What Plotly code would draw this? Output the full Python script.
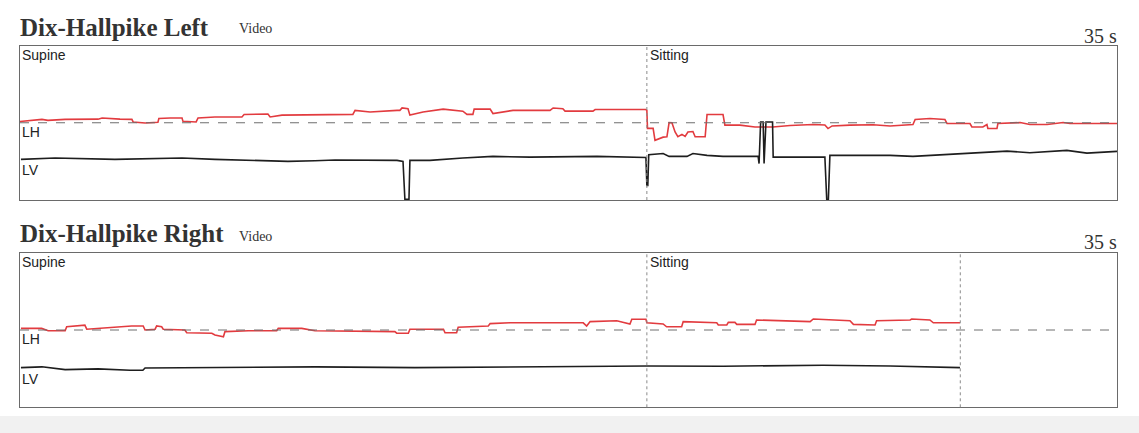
import plotly.graph_objects as go

# ---------------- data (time in s, eye position in deg) ----------------
TOTAL_S = 35
PHASES_LEFT = ["Supine", "Sitting"]
PHASE_START_LEFT = [0, 20]
PHASES_RIGHT = ["Supine", "Sitting"]
PHASE_START_RIGHT = [0, 20]
RIGHT_END = 30

left_lh_t = [0.00, 0.70, 0.89, 1.44, 2.49, 2.62, 3.19, 3.57, 3.61, 3.99,
             4.40, 4.43, 4.79, 5.17, 5.20, 5.62, 5.68, 6.22, 7.08, 7.15,
             7.91, 7.98, 8.36, 9.41, 10.05, 10.62, 10.69, 11.17, 12.03, 12.12,
             12.19, 12.38, 12.44, 12.86, 13.50, 14.13, 14.26, 14.45, 14.49, 15.00,
             15.09, 15.73, 16.91, 17.01, 17.32, 17.39, 18.28, 18.35, 19.97, 20.00,
             20.02, 20.20, 20.26, 20.52, 20.64, 20.71, 20.80, 20.90, 20.99, 21.12,
             21.22, 21.31, 21.47, 21.54, 21.86, 21.92, 22.43, 22.49, 22.97, 23.45,
             24.02, 24.57, 25.30, 25.68, 25.78, 25.91, 26.48, 27.22, 27.76, 28.49,
             28.56, 29.03, 29.51, 29.58, 30.31, 30.37, 30.72, 30.85, 30.88, 31.17,
             31.20, 31.91, 32.22, 32.77, 33.28, 33.50, 35.00]
left_lh_v = [0.3, 0.85, 0.6, 0.85, 0.9, 1.2, 0.9, 0.85, 0.2, -0.05,
             0.1, 1.05, 1.2, 1.2, 0.35, 0.2, 1.2, 1.45, 1.45, 2.05,
             2.2, 1.45, 1.9, 2.05, 2.15, 2.1, 3.1, 2.7, 3.1, 3.1,
             3.7, 3.5, 1.9, 2.7, 3.4, 2.9, 2.1, 2.1, 3.4, 3.4,
             2.3, 3.1, 3.1, 3.7, 3.5, 2.9, 2.9, 3.3, 3.3, 3.1,
             -1.4, -1.4, -4.4, -3.6, -3.5, 0.05, 0.0, -2.3, -3.5, -2.9,
             -3.4, -2.3, -2.2, -3.5, -3.5, 2.05, 2.05, -0.6, -0.6, -1.05,
             -1.05, -0.7, -0.45, -0.55, -1.45, -0.8, -0.6, -0.5, -0.8, -0.45,
             0.8, 1.05, 0.8, -0.2, -0.2, -1.05, -1.05, -0.45, -1.45, -1.45,
             -0.2, 0.05, -0.45, -0.45, 0.05, -0.2, -0.2]

left_lv_t = [0.03, 1.12, 3.03, 5.17, 6.22, 8.55, 9.41, 10.05, 12.03, 12.22,
             12.28, 12.41, 12.44, 13.08, 14.13, 15.09, 16.27, 18.41, 19.97, 20.00,
             20.03, 20.06, 20.52, 20.71, 21.28, 21.47, 21.92, 22.43, 23.55, 23.58,
             23.63, 23.71, 23.74, 23.80, 24.01, 24.03, 24.57, 25.68, 25.74, 25.79,
             25.84, 27.76, 28.49, 29.58, 30.63, 31.49, 32.22, 33.40, 34.04, 35.00]
left_lv_v = [-0.25, 0.1, -0.25, 0.1, -0.25, -0.75, -0.6, -0.4, -0.5, -0.75,
             -10.25, -10.25, -0.5, -0.5, 0.1, 0.5, 0.3, 0.5, 0.2, -6.8,
             -6.8, 0.9, 1.2, 0.5, 0.5, 1.2, 0.75, 0.5, 0.5, -1.3,
             9.1, 9.1, -1.3, 9.1, 9.1, 0.3, 0.3, 0.3, -10.5, -10.5,
             0.75, 0.75, 0.5, 1.0, 1.4, 1.8, 1.4, 2.0, 1.3, 1.75]

right_lh_t = [0.03, 0.69, 0.90, 1.44, 1.49, 1.86, 2.07, 2.13, 3.03, 3.56,
              3.93, 3.99, 4.31, 4.36, 4.52, 4.57, 5.26, 5.32, 6.12, 6.22,
              6.49, 6.54, 7.29, 8.19, 8.24, 8.99, 9.41, 11.96, 12.02, 12.39,
              12.44, 13.51, 13.56, 13.93, 13.98, 14.94, 15.00, 15.63, 17.97, 18.08,
              18.19, 19.04, 19.46, 19.52, 19.97, 20.00, 20.52, 20.63, 21.11, 21.16,
              22.23, 22.28, 22.55, 22.60, 22.81, 22.87, 23.45, 23.50, 25.21, 25.31,
              26.48, 26.59, 27.28, 27.33, 28.40, 28.45, 29.03, 29.14, 29.99]
right_lh_v = [0.4, 0.4, -0.2, -0.2, 0.8, 1.0, 1.2, 0.2, 0.7, 1.0,
              1.0, 0.0, 0.2, 1.0, 0.8, 0.2, 0.0, -0.7, -0.8, -1.25,
              -1.7, -0.4, -0.2, -0.2, 0.4, 0.4, -0.2, -0.4, -0.8, -0.8,
              0.2, 0.2, -0.7, -0.7, 0.7, 1.0, 1.6, 1.8, 1.8, 1.0,
              2.1, 2.3, 1.5, 2.7, 2.7, 1.8, 1.5, 0.8, 0.8, 2.1,
              1.8, 1.25, 1.25, 1.9, 1.9, 1.4, 1.4, 2.5, 2.1, 2.75,
              2.3, 1.4, 1.25, 2.3, 2.5, 2.75, 2.5, 1.8, 1.8]

right_lv_t = [0.03, 0.70, 1.44, 2.49, 3.51, 3.92, 3.99, 6.22, 9.41, 12.60,
              15.16, 17.13, 20.00, 22.43, 25.62, 27.76, 29.99]
right_lv_v = [-0.1, 0.1, -0.6, -0.4, -0.75, -0.75, -0.2, -0.1, 0.1, -0.1,
              0.1, 0.1, 0.3, 0.25, 0.5, 0.3, -0.1]

# ---------------- layout constants ----------------
W, H = 1139, 433
RED = "#e23b3f"
BLACK = "#1e1e1e"
BOX = "#6a6a6a"
SERIF = "Liberation Serif, Times New Roman, serif"
SANS = "Liberation Sans, Arial, sans-serif"
HALF = 19.31            # half height of each panel in deg
LV_OFF_TOP = -8.9       # LV channel baseline position (deg on LH scale)
LV_OFF_BOT = -9.3


def fx(px):
    return px / W


def fy(py):
    return 1 - py / H


X_DOM = [fx(20), fx(1117)]
TOP_DOM = [fy(200), fy(45.5)]
BOT_DOM = [fy(407.3), fy(252.7)]

fig = go.Figure()

# top panel traces
fig.add_trace(go.Scatter(x=left_lh_t, y=left_lh_v, mode="lines", xaxis="x", yaxis="y",
                         line=dict(color=RED, width=1.6), showlegend=False))
fig.add_trace(go.Scatter(x=left_lv_t, y=left_lv_v, mode="lines", xaxis="x", yaxis="y3",
                         line=dict(color=BLACK, width=1.6), showlegend=False))
# bottom panel traces
fig.add_trace(go.Scatter(x=right_lh_t, y=right_lh_v, mode="lines", xaxis="x2", yaxis="y2",
                         line=dict(color=RED, width=1.6), showlegend=False))
fig.add_trace(go.Scatter(x=right_lv_t, y=right_lv_v, mode="lines", xaxis="x2", yaxis="y4",
                         line=dict(color=BLACK, width=1.6), showlegend=False))

ax_common = dict(showgrid=False, zeroline=False, showticklabels=False, ticks="",
                 showline=True, mirror=True, linecolor=BOX, linewidth=1, fixedrange=True)

fig.update_layout(
    width=W, height=H,
    margin=dict(l=0, r=0, t=0, b=0, pad=0),
    paper_bgcolor="white", plot_bgcolor="white",
    xaxis=dict(domain=X_DOM, range=[0, TOTAL_S], anchor="y", **ax_common),
    yaxis=dict(domain=TOP_DOM, range=[-HALF, HALF], anchor="x", **ax_common),
    yaxis3=dict(overlaying="y", range=[-HALF - LV_OFF_TOP, HALF - LV_OFF_TOP], visible=False, anchor="x"),
    xaxis2=dict(domain=X_DOM, range=[0, TOTAL_S], anchor="y2", **ax_common),
    yaxis2=dict(domain=BOT_DOM, range=[-HALF, HALF], anchor="x2", **ax_common),
    yaxis4=dict(overlaying="y2", range=[-HALF - LV_OFF_BOT, HALF - LV_OFF_BOT], visible=False, anchor="x2"),
)

shapes = []
# faint scan band at bottom
shapes.append(dict(type="rect", xref="paper", yref="paper", x0=0, x1=1, y0=0, y1=fy(416),
                   fillcolor="#f1f1f1", line=dict(width=0), layer="below"))
# dashed zero lines
for xr, yr in (("x", "y"), ("x2", "y2")):
    shapes.append(dict(type="line", xref=xr, yref=yr, x0=0, x1=TOTAL_S, y0=0, y1=0,
                       line=dict(color="#6e6e6e", width=1, dash="dash")))
# phase dividers
for t in PHASE_START_LEFT[1:]:
    shapes.append(dict(type="line", xref="x", yref="y domain", x0=t, x1=t, y0=0, y1=1,
                       line=dict(color="#8a8a8a", width=1, dash="dot")))
for t in PHASE_START_RIGHT[1:] + [RIGHT_END]:
    shapes.append(dict(type="line", xref="x2", yref="y2 domain", x0=t, x1=t, y0=0, y1=1,
                       line=dict(color="#8a8a8a", width=1, dash="dot")))
fig.update_layout(shapes=shapes)

ann = []


def text(x, y, s, size, family, xanchor="left", yanchor="top", color="#222"):
    ann.append(dict(x=fx(x), y=fy(y), xref="paper", yref="paper", text=s, showarrow=False,
                    xanchor=xanchor, yanchor=yanchor, font=dict(size=size, family=family, color=color),
                    borderpad=0))


# titles
text(19, 41.5, "<b>Dix-Hallpike Left</b>", 25, SERIF, yanchor="bottom", color="#333")
text(238, 37.5, "Video", 14, SERIF, yanchor="bottom", color="#333")
text(1118, 48, "35 s", 20, SERIF, xanchor="right", yanchor="bottom", color="#333")
text(19, 248.5, "<b>Dix-Hallpike Right</b>", 25, SERIF, yanchor="bottom", color="#333")
text(238, 244.5, "Video", 14, SERIF, yanchor="bottom", color="#333")
text(1118, 253.5, "35 s", 20, SERIF, xanchor="right", yanchor="bottom", color="#333")

# panel labels
for top, lh_y, lv_y in ((45.5, 122.5, 160.5), (252.7, 329.5, 369.5)):
    text(21, top + 0.5, "Supine", 14, SANS)
    text(649, top + 0.5, "Sitting", 14, SANS)
    text(21, lh_y, "LH", 14, SANS)
    text(21, lv_y, "LV", 14, SANS)

fig.update_layout(annotations=ann)
fig.write_html("out.html", config={"displayModeBar": False},
               post_script="document.body.style.margin='0';document.body.style.padding='0';")
